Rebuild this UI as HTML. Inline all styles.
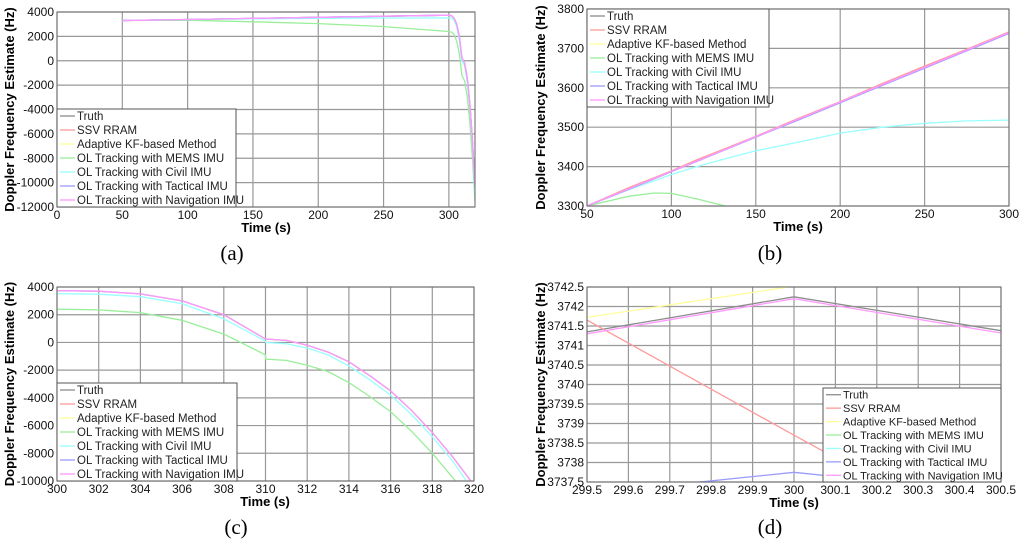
<!DOCTYPE html>
<html><head><meta charset="utf-8"><style>
body{margin:0;background:#fff;}
svg{display:block;font-family:"Liberation Sans",Arial,sans-serif;}
</style></head><body>
<svg id="fig" width="1024" height="549" viewBox="0 0 1024 549"></svg>
<script>
// ---------- data ----------
const legendLabels=["Truth","SSV RRAM","Adaptive KF-based Method","OL Tracking with MEMS IMU","OL Tracking with Civil IMU","OL Tracking with Tactical IMU","OL Tracking with Navigation IMU"];
const seriesColors=["#8c8c8c","#ff9a9a","#ffff99","#99ee99","#99ffff","#9a9aff","#ff99ff"];
// panel a
const aTime=[50,100,150,200,250,300,302,304,306,308,310,312,314,316,318,320];
const aTruth=[3300,3388,3476,3564,3652,3740,3700,3500,3000,2000,250,-200,-1400,-3500,-6500,-10300];
const aMems=[3300,3330,3200,3050,2800,2400,2350,2150,1600,600,-1200,-1650,-2900,-5000,-8000,-11500];
const aCivil=[3300,3380,3440,3485,3510,3518,3480,3300,2800,1700,0,-400,-1700,-3800,-6800,-11000];
const aTact=[3300,3387,3475,3563,3651,3739,3700,3500,3000,2000,250,-200,-1400,-3500,-6500,-10300];
// panel b
const bTime=[50,75,90,100,115,132,150,175,200,225,250,275,300];
const bTruth=[3300,3344,3370,3388,3414,3444,3476,3520,3564,3608,3652,3696,3740];
const bSsv=[3300,3347,3372,3389,3417,3446,3477,3522,3565,3611,3655,3698,3742];
const bMems=[3300,3325,3333,3332,3318,3300,3270,3210,3150,3090,3030,2970,2900];
const bCivil=[3300,3342,3364,3380,3400,3420,3440,3462,3485,3500,3510,3516,3518];
const bTact=[3300,3343,3369,3387,3413,3443,3475,3518,3562,3606,3650,3694,3738];
// panel c
const cTime=[300,302,304,306,308,310,310.01,311,312,313,314,315,316,317,318,319,320];
const cTruth=[3740,3700,3500,3000,2000,250,250,150,-200,-700,-1400,-2400,-3500,-4900,-6500,-8300,-10300];
const cMems=[2400,2350,2150,1600,600,-900,-1200,-1300,-1650,-2100,-2900,-3900,-5000,-6400,-8000,-9800,-11500];
const cCivil=[3520,3480,3300,2800,1700,100,0,-100,-400,-900,-1700,-2700,-3800,-5200,-6800,-8600,-10800];
// panel d
const dTime=[299.5,300,300.5];
const dTruth=[3741.35,3742.25,3741.38];
const dNav=[3741.3,3742.2,3741.32];
const dSsv=[3741.65,3738.7,3735.8];
const dAdapt=[3741.72,3742.52,3743.3];
const dTact=[3737.2,3737.75,3737.2];

const panels=[
 {id:"a",x0:57,x1:475,y0:207,y1:12,xd:[0,320],yd:[-12000,4000],xt:[0,50,100,150,200,250,300],xl:["0","50","100","150","200","250","300"],yt:[-12000,-10000,-8000,-6000,-4000,-2000,0,2000,4000],
  series:[[aTime,aTruth,0],[aTime,aMems,3],[aTime,aCivil,4],[aTime,aTact,5],[aTime,aTruth,6]],leg:[57,109,179,98],lf:11.5,cap:[232,253],tx:266},
 {id:"b",x0:587,x1:1009,y0:206,y1:9,xd:[50,300],yd:[3300,3800],xt:[50,100,150,200,250,300],xl:["50","100","150","200","250","300"],yt:[3300,3400,3500,3600,3700,3800],
  series:[[bTime,bTruth,0],[bTime,bMems,3],[bTime,bCivil,4],[bTime,bSsv,1],[bTime,bTact,5],[bTime,bTruth,6]],leg:[587,9,182,98],lf:11.5,cap:[770,253],tx:798},
 {id:"c",x0:57,x1:474,y0:481,y1:287,xd:[300,320],yd:[-10000,4000],xt:[300,302,304,306,308,310,312,314,316,318,320],xl:["300","302","304","306","308","310","312","314","316","318","320"],yt:[-10000,-8000,-6000,-4000,-2000,0,2000,4000],
  series:[[cTime,cTruth,0],[cTime,cMems,3],[cTime,cCivil,4],[cTime,cTruth,6]],leg:[57,383,180,98],lf:11.5,cap:[236,527],tx:265},
 {id:"d",x0:587,x1:1001,y0:482,y1:287,xd:[299.5,300.5],yd:[3737.5,3742.5],xt:[299.5,299.6,299.7,299.8,299.9,300,300.1,300.2,300.3,300.4,300.5],xl:["299.5","299.6","299.7","299.8","299.9","300","300.1","300.2","300.3","300.4","300.5"],yt:[3737.5,3738,3738.5,3739,3739.5,3740,3740.5,3741,3741.5,3742,3742.5],
  series:[[dTime,dTruth,0],[dTime,dSsv,1],[dTime,dAdapt,2],[dTime,dTact,5],[dTime,dNav,6]],leg:[823,388,178,94],lf:11,cap:[770,527],tx:794}
];
const NS="http://www.w3.org/2000/svg";
const svg=document.getElementById("fig");
function mk(t,a,p){const e=document.createElementNS(NS,t);for(const k in a)e.setAttribute(k,a[k]);(p||svg).appendChild(e);return e;}
panels.forEach(P=>{
 const g=mk("g",{});
 
 
 const sx=v=>P.x0+(v-P.xd[0])/(P.xd[1]-P.xd[0])*(P.x1-P.x0);
 const sy=v=>P.y0+(v-P.yd[0])/(P.yd[1]-P.yd[0])*(P.y1-P.y0);
 mk("rect",{x:P.x0,y:P.y1,width:P.x1-P.x0,height:P.y0-P.y1,fill:"#fff",stroke:"none"},g);
 const grid=mk("g",{stroke:"#999","stroke-width":1.2},g);
 
 
 P.xt.forEach((v,i)=>{mk("line",{x1:sx(v),x2:sx(v),y1:P.y1,y2:P.y0},grid);
  const t=mk("text",{x:sx(v),y:P.y0+12,"text-anchor":"middle","font-size":12,fill:"#111"},g);t.textContent=P.xl[i];
  
  });
 P.yt.forEach(v=>{mk("line",{x1:P.x0,x2:P.x1,y1:sy(v),y2:sy(v)},grid);
  const t=mk("text",{x:P.x0-3,y:sy(v)+4,"text-anchor":"end","font-size":12,fill:"#111"},g);t.textContent=String(v);
  
  });
 const cp=mk("clipPath",{id:"clip"+P.id},g);
 mk("rect",{x:P.x0,y:P.y1,width:P.x1-P.x0,height:P.y0-P.y1},cp);
 const lines=mk("g",{"clip-path":"url(#clip"+P.id+")",fill:"none","stroke-width":1.3},g);
 P.series.forEach(s=>{const d=s[0].map((t,i)=>(i?"L":"M")+sx(t).toFixed(1)+","+sy(s[1][i]).toFixed(1)).join("");
  const p=mk("path",{d:d,stroke:seriesColors[s[2]]},lines);
  
  });
 mk("rect",{x:P.x0,y:P.y1,width:P.x1-P.x0,height:P.y0-P.y1,fill:"none",stroke:"#666"},g);
 const L=P.leg;const lg=mk("g",{},g);
 
 
 mk("rect",{x:L[0],y:L[1],width:L[2],height:L[3],fill:"#fff",stroke:"#555"},lg);
 const step=L[3]/7;
 legendLabels.forEach((lab,i)=>{const yy=L[1]+step*(i+0.5);
  mk("line",{x1:L[0]+3,x2:L[0]+18,y1:yy,y2:yy,stroke:seriesColors[i],"stroke-width":1.3},lg);
  const t=mk("text",{x:L[0]+20,y:yy+4,"font-size":P.lf,fill:"#222"},lg);t.textContent=lab;
  
  });
 const xt=mk("text",{x:P.tx,y:P.y0+25,"text-anchor":"middle","font-size":13,"font-weight":"bold"},g);xt.textContent="Time (s)";
 
 
 const yc=(P.y0+P.y1)/2;const yx=P.x0>500?P.x0-42:14;
 const yt=mk("text",{x:yx,y:yc,"text-anchor":"middle","font-size":13,"font-weight":"bold",transform:"rotate(-90 "+yx+" "+yc+")"},g);yt.textContent="Doppler Frequency Estimate (Hz)";
 
 
 const c=mk("text",{x:P.cap[0],y:P.cap[1]+7,"text-anchor":"middle","font-size":21,"font-family":"Liberation Serif,serif"},g);c.textContent="("+P.id+")";
 
 
});
</script>
</body></html>
